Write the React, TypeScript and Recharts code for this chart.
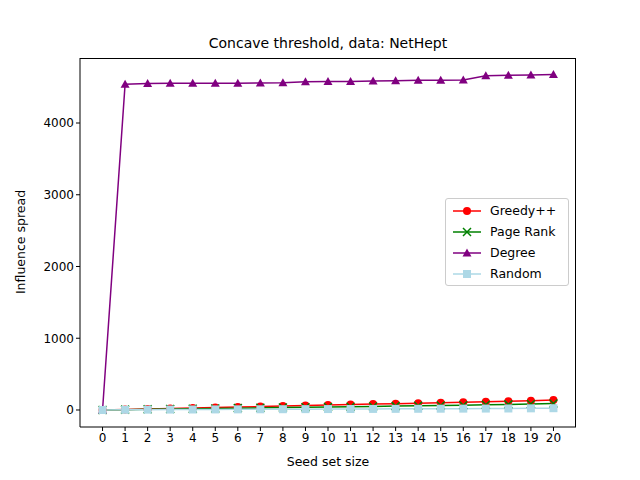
import React from 'react';
import { LineChart, Line, XAxis, YAxis } from 'recharts';

const seeds = [0,1,2,3,4,5,6,7,8,9,10,11,12,13,14,15,16,17,18,19,20];
const greedy = [0,8,15,22,28,35,42,48,55,62,68,75,82,88,95,102,108,115,122,130,138];
const pageRank = [0,5,10,14,18,22,26,30,34,38,42,46,50,54,58,62,66,72,78,84,90];
const degree = [0,4540,4550,4555,4555,4555,4555,4558,4560,4575,4578,4580,4585,4590,4595,4595,4600,4660,4665,4670,4675];
const random = [0,3,5,6,7,8,9,10,11,12,13,14,15,16,17,18,19,20,21,23,25];
const yTicks = [0,1000,2000,3000,4000];

const data = seeds.map((s, i) => ({ s, greedy: greedy[i], pageRank: pageRank[i], degree: degree[i], random: random[i] }));

const Circle = (p: any) => <circle key={p.index} cx={p.cx} cy={p.cy} r={4} fill={p.color} />;
const Cross = (p: any) => <path key={p.index} d={`M${p.cx-4},${p.cy-4}L${p.cx+4},${p.cy+4}M${p.cx-4},${p.cy+4}L${p.cx+4},${p.cy-4}`} stroke={p.color} strokeWidth={1.5} />;
const Tri = (p: any) => <path key={p.index} d={`M${p.cx},${p.cy-4.5}L${p.cx+4.5},${p.cy+3.5}L${p.cx-4.5},${p.cy+3.5}Z`} fill={p.color} />;
const Sq = (p: any) => <rect key={p.index} x={p.cx-4} y={p.cy-4} width={8} height={8} fill={p.color} />;

const series = [
  { key: 'greedy', name: 'Greedy++', color: 'red', Dot: Circle },
  { key: 'pageRank', name: 'Page Rank', color: 'green', Dot: Cross },
  { key: 'degree', name: 'Degree', color: 'purple', Dot: Tri },
  { key: 'random', name: 'Random', color: 'lightblue', Dot: Sq },
];

export default function App() {
  const font = 'DejaVu Sans';
  return (
    <div style={{ position: 'absolute', left: 0, top: 0, width: 640, height: 480, background: '#fff', fontFamily: font }}>
      <LineChart width={640} height={480} data={data} margin={{ top: 58, right: 64, bottom: 0, left: 0 }}>
        <XAxis dataKey="s" type="number" domain={[-1, 21]} ticks={seeds} interval={0} height={53}
          tick={{ fill: '#000', fontSize: 12, fontFamily: font }} tickSize={4} stroke="#000" />
        <YAxis type="number" domain={[-237, 4906]} ticks={yTicks} width={80}
          tick={{ fill: '#000', fontSize: 12, fontFamily: font }} tickSize={4} stroke="#000" />
        {series.map(s => (
          <Line key={s.key} dataKey={s.key} stroke={s.color} strokeWidth={1.5} isAnimationActive={false}
            dot={(p: any) => <s.Dot {...p} color={s.color} />} />
        ))}
        <text x={328} y={48} textAnchor="middle" fontSize={14} fontFamily={font}>Concave threshold, data: NetHept</text>
        <text x={328} y={466} textAnchor="middle" fontSize={12.5} fontFamily={font}>Seed set size</text>
        <text x={25} y={242} textAnchor="middle" fontSize={12.5} fontFamily={font} transform="rotate(-90 25 242)">Influence spread</text>
      </LineChart>
      <div style={{ position: 'absolute', left: 80, top: 58, width: 495, height: 368, borderTop: '1px solid #000', borderRight: '1px solid #000', pointerEvents: 'none' }} />
      <div style={{ position: 'absolute', left: 445, top: 198, width: 122, height: 86, border: '1px solid #ccc', borderRadius: 3, background: '#fff', fontSize: 12.5 }}>
        {series.map((s, i) => (
          <div key={s.key} style={{ position: 'absolute', left: 6, top: 4 + i * 21, display: 'flex', alignItems: 'center' }}>
            <svg width={30} height={14}>
              <line x1={1} y1={7} x2={29} y2={7} stroke={s.color} strokeWidth={1.5} />
              <s.Dot cx={15} cy={7} color={s.color} index={0} />
            </svg>
            <span style={{ marginLeft: 8 }}>{s.name}</span>
          </div>
        ))}
      </div>
    </div>
  );
}
